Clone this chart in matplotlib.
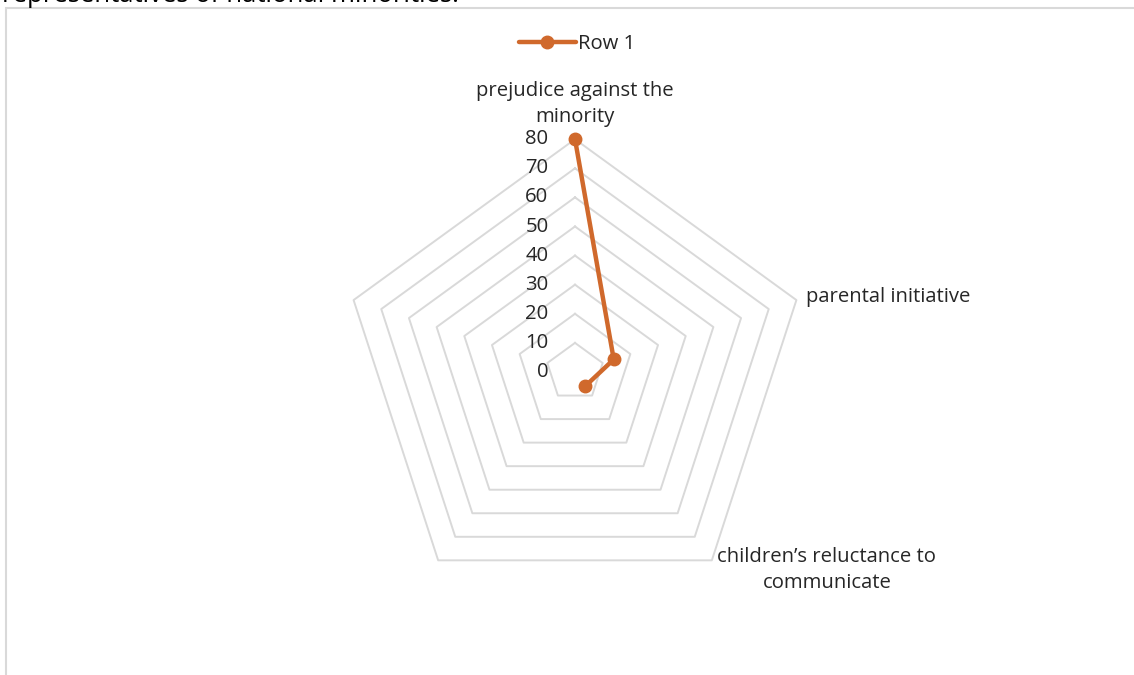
import numpy as np
import matplotlib.pyplot as plt
from matplotlib.patches import Rectangle

plt.rcParams['font.family'] = ['Open Sans', 'DejaVu Sans']

# Radar data (last two categories are blank)
categories = ['prejudice against the\nminority', 'parental initiative',
              'children\u2019s reluctance to\ncommunicate', '', '']
values = [80, 14, 6, np.nan, np.nan]
levels = [0, 10, 20, 30, 40, 50, 60, 70, 80]
series_name = 'Row 1'

orange = '#D0692C'
grid_col = '#D9D9D9'
text_col = '#262626'
fs = 14.6

W, H, DPI = 1134, 675, 100
fig = plt.figure(figsize=(W / DPI, H / DPI), dpi=DPI)

# centre of the radar in pixels and pixels per unit
cx, cy = 575, 372
scale = 2.91
ax = fig.add_axes([0, 0, 1, 1])
ax.set_xlim(-cx / scale, (W - cx) / scale)
ax.set_ylim(-(H - cy) / scale, cy / scale)
ax.axis('off')

n = len(categories)
angles = np.deg2rad(90 - 360 / n * np.arange(n))
ca, sa = np.cos(angles), np.sin(angles)

# polygon grid
for lv in levels[1:]:
    xs = np.append(lv * ca, lv * ca[0])
    ys = np.append(lv * sa, lv * sa[0])
    ax.plot(xs, ys, color=grid_col, lw=1.4, zorder=1)

# radial tick labels
for lv in levels:
    ax.annotate(str(lv), (0, lv), xytext=(-19, 0), textcoords='offset points',
                ha='right', va='center', fontsize=fs, color=text_col)

# category labels
rmax = levels[-1]
ax.annotate(categories[0], (rmax * ca[0], rmax * sa[0]), xytext=(0, 9),
            textcoords='offset points', ha='center', va='bottom',
            fontsize=fs, color=text_col, linespacing=1.38)
ax.annotate(categories[1], (rmax * ca[1], rmax * sa[1]), xytext=(7, 2),
            textcoords='offset points', ha='left', va='center',
            fontsize=fs, color=text_col)
ax.annotate(categories[2], (rmax * ca[2], rmax * sa[2]), xytext=(4, -7),
            textcoords='offset points', ha='left', va='center',
            fontsize=fs, color=text_col, linespacing=1.38,
            multialignment='center')

# data series
v = np.array(values, dtype=float)
ax.plot(v * ca, v * sa, color=orange, lw=3.2, marker='o', ms=9,
        solid_capstyle='round', zorder=3, label=series_name)

ax.legend(loc='center', bbox_to_anchor=(577 / W, 1 - 44 / H),
          bbox_transform=fig.transFigure, frameon=False, fontsize=fs,
          handlelength=2.8, handletextpad=0.1, labelcolor=text_col)

# chart border
fig.patches.append(Rectangle((6 / W, -0.1), 1.2, 1 - 8 / H + 0.1,
                             transform=fig.transFigure, fill=False,
                             edgecolor=grid_col, lw=1.5))

# heading text above the chart
fig.text(2 / W, 1 - 1.5 / H, 'representatives of national minorities.',
         ha='left', va='baseline', fontsize=18.5, color='#000000')

fig.savefig('out.png', dpi=DPI)
